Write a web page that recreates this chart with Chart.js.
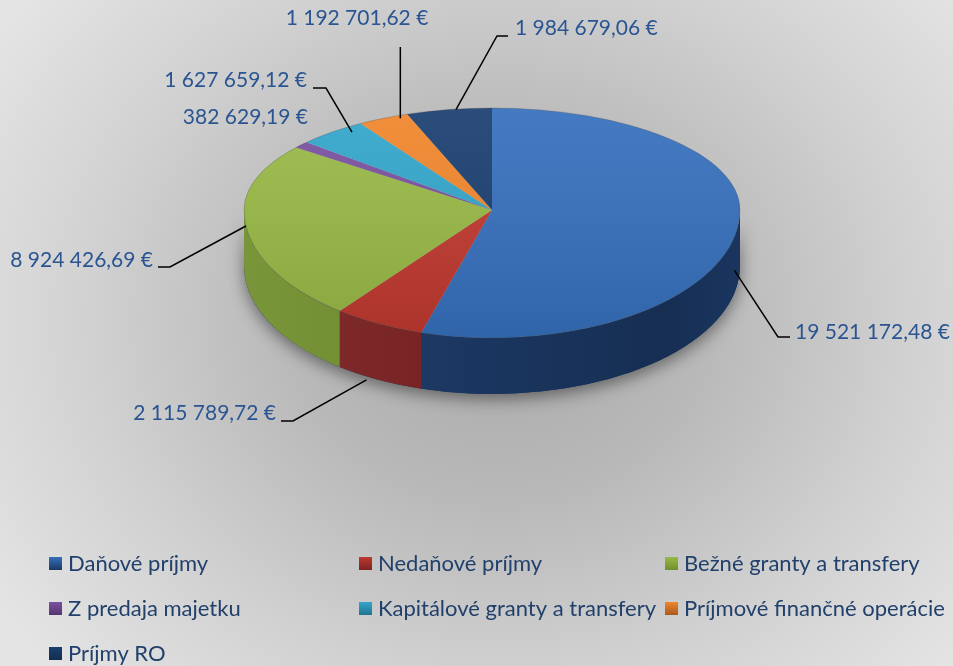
<!DOCTYPE html>
<html>
<head>
<meta charset="utf-8">
<script src="https://cdn.jsdelivr.net/npm/chart.js@4.4.1/dist/chart.umd.min.js"></script>
<style>
    html, body { margin: 0; padding: 0; }
    body {
        width: 953px;
        height: 666px;
        overflow: hidden;
        background: radial-gradient(ellipse 600px 520px at 500px 320px, #a9a9a9 0%, #b9b9b9 35%, #d2d2d2 70%, #e4e4e4 100%);
    }
    canvas { display: block; }
</style>
</head>
<body>
<canvas id="pieChart" width="953" height="666"></canvas>
<script>
// data
const categories = [
    "Daňové príjmy",
    "Nedaňové príjmy",
    "Bežné granty a transfery",
    "Z predaja majetku",
    "Kapitálové granty a transfery",
    "Príjmové finančné operácie",
    "Príjmy RO"
];
const amounts = [19521172.48, 2115789.72, 8924426.69, 382629.19, 1627659.12, 1192701.62, 1984679.06];

// colours of the top face and of the side wall
const topColors = ["#3670bd", "#c0392f", "#98b945", "#7a50a0", "#33a6cb", "#f0862c", "#1b3f70"];
const sideColors = ["#1b3864", "#7c2222", "#718f2e", "#553570", "#22738e", "#a85a1d", "#132c4f"];

// placement of the value labels (layout only)
const labelLayout = [
    {depth: 0.75, dx: -3, path: [[778, 337], [790, 337]], text: [795, 332], align: "left"},
    {depth: 1, dx: -12, path: [[293, 421], [281, 421]], text: [276, 413], align: "right"},
    {depth: 0, dx: 0, path: [[170, 267], [158, 267]], text: [153, 260], align: "right"},
    {depth: 0, dx: 0, path: null, text: [308, 117], align: "right"},
    {depth: 0, dx: 20, path: [[326, 88], [313, 88]], text: [307, 80], align: "right"},
    {depth: 0, dx: 17, up: 47, text: [357, 18], align: "center"},
    {depth: 0, dx: 7, path: [[497, 36], [508, 36]], text: [515, 28], align: "left"}
];

const pieX = 492;
const pieY = 210;
const backRy = 102;
const frontRy = 128;
const depth = 56;
const labelFont = "21px Lato";
const legendFont = "22px Lato";

function formatEur(v) {
    let parts = v.toFixed(2).split(".");
    return parts[0].replace(/\B(?=(\d{3})+(?!\d))/g, " ") + "," + parts[1] + " €";
}

// point on the rim for an angle
function rimPoint(r, a) {
    let ry = Math.sin(a) >= 0 ? frontRy : backRy;
    return [pieX + r * Math.cos(a), pieY + ry * Math.sin(a)];
}

function sidePath(ctx, r, lo, hi) {
    ctx.beginPath();
    ctx.ellipse(pieX, pieY, r, frontRy, 0, lo, hi);
    ctx.ellipse(pieX, pieY + depth, r, frontRy, 0, hi, lo, true);
    ctx.closePath();
}

const pie3d = {
    id: "pie3d",
    beforeDatasetsDraw(chart) {
        const ctx = chart.ctx;
        const meta = chart.getDatasetMeta(0);
        const r = meta.data[0].outerRadius;

        // shadow under the pie
        ctx.save();
        ctx.shadowColor = "rgba(0,0,0,0.45)";
        ctx.shadowBlur = 16;
        ctx.shadowOffsetY = 5;
        ctx.fillStyle = "#1b3864";
        sidePath(ctx, r, 0, Math.PI);
        ctx.fill();
        ctx.restore();

        // side walls
        meta.data.forEach((el, i) => {
            let lo = Math.max(el.startAngle, 0);
            let hi = Math.min(el.endAngle, Math.PI);
            if (lo >= hi) return;
            ctx.save();
            sidePath(ctx, r, lo, hi);
            ctx.fillStyle = sideColors[i];
            ctx.fill();
            let g = ctx.createLinearGradient(pieX - r, 0, pieX + r, 0);
            g.addColorStop(0, "rgba(255,255,255,0.06)");
            g.addColorStop(0.5, "rgba(0,0,0,0.05)");
            g.addColorStop(0.85, "rgba(0,0,0,0.18)");
            g.addColorStop(1, "rgba(0,0,0,0.05)");
            ctx.fillStyle = g;
            ctx.fill();
            ctx.restore();
        });

        // top face, back half and front half with different squash
        const halves = [
            {y0: 0, y1: pieY + 0.5, ry: backRy},
            {y0: pieY, y1: chart.height, ry: frontRy}
        ];
        halves.forEach((h) => {
            ctx.save();
            ctx.beginPath();
            ctx.rect(0, h.y0, chart.width, h.y1 - h.y0);
            ctx.clip();
            ctx.translate(pieX, pieY);
            ctx.scale(1, h.ry / r);
            ctx.translate(-meta.data[0].x, -meta.data[0].y);
            meta.data.forEach((el) => el.draw(ctx));
            ctx.restore();
        });

        // light shading on the top face
        ctx.save();
        ctx.beginPath();
        ctx.ellipse(pieX, pieY, r, backRy, 0, Math.PI, 2 * Math.PI);
        ctx.ellipse(pieX, pieY, r, frontRy, 0, 0, Math.PI);
        ctx.closePath();
        let tg = ctx.createLinearGradient(0, pieY - backRy, 0, pieY + frontRy);
        tg.addColorStop(0, "rgba(255,255,255,0.07)");
        tg.addColorStop(1, "rgba(0,0,0,0.1)");
        ctx.fillStyle = tg;
        ctx.fill();
        ctx.strokeStyle = "rgba(70,70,70,0.35)";
        ctx.lineWidth = 0.8;
        ctx.stroke();
        ctx.restore();

        return false;
    },
    afterDraw(chart) {
        const ctx = chart.ctx;
        const meta = chart.getDatasetMeta(0);
        const r = meta.data[0].outerRadius;

        // value labels with leader lines
        ctx.save();
        ctx.font = labelFont;
        ctx.textBaseline = "middle";
        ctx.strokeStyle = "#000";
        ctx.lineWidth = 1.5;
        meta.data.forEach((el, i) => {
            const lay = labelLayout[i];
            let mid = (el.startAngle + el.endAngle) / 2;
            let p = rimPoint(r, mid);
            p[0] += lay.dx;
            p[1] += lay.depth * depth;
            if (lay.path) {
                ctx.beginPath();
                ctx.moveTo(p[0], p[1]);
                lay.path.forEach((q) => ctx.lineTo(q[0], q[1]));
                ctx.stroke();
            } else if (lay.up) {
                ctx.beginPath();
                ctx.moveTo(p[0], p[1]);
                ctx.lineTo(p[0], lay.up);
                ctx.stroke();
            }
            ctx.fillStyle = "#2a5592";
            ctx.textAlign = lay.align;
            ctx.fillText(formatEur(chart.data.datasets[0].data[i]), lay.text[0], lay.text[1]);
        });
        ctx.restore();

        // legend, three columns
        const colX = [49, 359, 665];
        const rowY = [563, 608, 653];
        ctx.save();
        ctx.font = legendFont;
        ctx.textBaseline = "middle";
        ctx.textAlign = "left";
        chart.data.labels.forEach((lab, i) => {
            let x = colX[i % 3];
            let y = rowY[Math.floor(i / 3)];
            let g = ctx.createLinearGradient(0, y - 6, 0, y + 7);
            g.addColorStop(0, topColors[i]);
            g.addColorStop(1, sideColors[i]);
            ctx.fillStyle = g;
            ctx.fillRect(x, y - 6, 13, 13);
            ctx.fillStyle = "#22406c";
            ctx.fillText(lab, x + 19, y + 1);
        });
        ctx.restore();
    }
};

const chart = new Chart(document.getElementById("pieChart"), {
    type: "pie",
    data: {
        labels: categories,
        datasets: [
            {
                data: amounts,
                backgroundColor: topColors,
                borderWidth: 0
            }
        ]
    },
    options: {
        responsive: false,
        animation: false,
        radius: 248,
        events: [],
        plugins: {
            legend: {display: false},
            tooltip: {enabled: false}
        }
    },
    plugins: [pie3d]
});
</script>
</body>
</html>
